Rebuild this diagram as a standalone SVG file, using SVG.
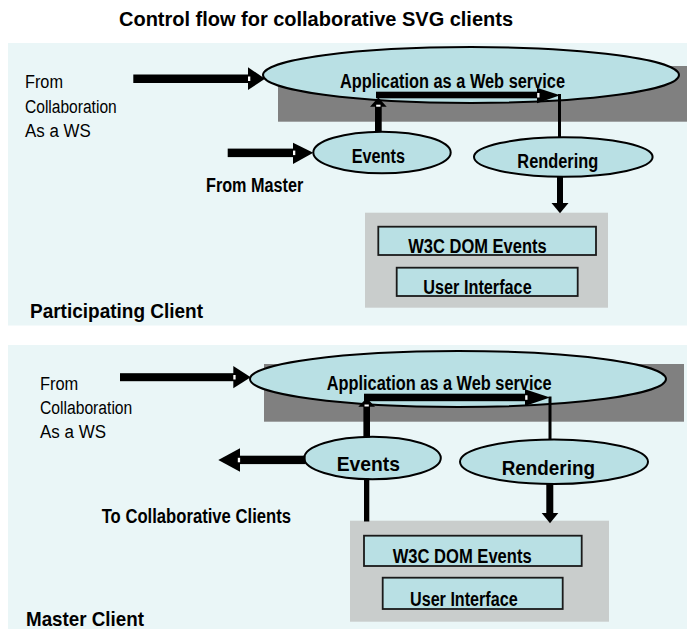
<svg xmlns="http://www.w3.org/2000/svg" width="687" height="629" viewBox="0 0 687 629">
<style>
  .panel { fill: #eaf6f7; }
  .shade { fill: #808080; }
  .tray { fill: #c9cdcc; }
  .node { fill: #b9e0e4; stroke: #000; stroke-width: 2; }
  .box { fill: #b9e0e4; stroke: #1a1a1a; stroke-width: 1.8; }
  .blk { fill: #000; }
  .thin { stroke: #000; stroke-width: 3; fill: none; }
  .notch { fill: #fff; }
  text { font-family: "Liberation Sans", Arial, sans-serif; fill: #000; }
  .b { font-weight: bold; }
  .t18 { font-size: 19.5px; }
  .t20 { font-size: 21px; }
  .r17 { font-size: 18px; }
</style>

<!-- title -->
<text id="title" class="b" style="font-size:20px" x="119" y="26" textLength="394" lengthAdjust="spacing">Control flow for collaborative SVG clients</text>

<!-- ================= Participating client panel ================= -->
<g id="participating-panel">
  <rect class="panel" x="8" y="43" width="679" height="282.5"/>
  <rect class="shade" x="278" y="66" width="409" height="55.7"/>
  <text class="b t20" x="30" y="318.3" textLength="173" lengthAdjust="spacingAndGlyphs">Participating Client</text>
  <text class="r17" x="25" y="88.3" textLength="38" lengthAdjust="spacingAndGlyphs">From</text>
  <text class="r17" x="25" y="113.3" textLength="91.7" lengthAdjust="spacingAndGlyphs">Collaboration</text>
  <text class="r17" x="25" y="136.7" textLength="65.7" lengthAdjust="spacingAndGlyphs">As a WS</text>
  <text class="b t18" x="206" y="191.7" textLength="97.3" lengthAdjust="spacingAndGlyphs">From Master</text>
</g>

<g id="p-app">
  <ellipse class="node" cx="471" cy="75" rx="208" ry="28"/>
  <text class="b t18" x="340" y="88.3" textLength="225" lengthAdjust="spacingAndGlyphs">Application as a Web service</text>
</g>
<g id="p-events">
  <ellipse class="node" cx="382" cy="152.5" rx="68.7" ry="20.8"/>
  <text class="b t18" x="351.7" y="162.7" textLength="53.3" lengthAdjust="spacingAndGlyphs">Events</text>
</g>
<g id="p-rendering">
  <ellipse class="node" cx="563.3" cy="157" rx="89.3" ry="19.7"/>
  <text class="b t18" x="517.3" y="168.3" textLength="81" lengthAdjust="spacingAndGlyphs">Rendering</text>
</g>
<g id="p-tray">
  <rect class="tray" x="365" y="212.7" width="243" height="95"/>
</g>
<g id="p-dom">
  <rect class="box" x="378.3" y="226.7" width="217.7" height="28.3"/>
  <text class="b t18" x="408.3" y="253.3" textLength="138.4" lengthAdjust="spacingAndGlyphs">W3C DOM Events</text>
</g>
<g id="p-ui">
  <rect class="box" x="396.7" y="267.7" width="181" height="28.3"/>
  <text class="b t18" x="423.3" y="294" textLength="108.4" lengthAdjust="spacingAndGlyphs">User Interface</text>
</g>

<!-- ================= Master client panel ================= -->
<g id="master-panel">
  <rect class="panel" x="8" y="345" width="679" height="284"/>
  <rect class="shade" x="264" y="364" width="420" height="57.7"/>
  <text class="b t20" x="26" y="626" textLength="118" lengthAdjust="spacingAndGlyphs">Master Client</text>
  <text class="r17" x="40" y="390" textLength="38.3" lengthAdjust="spacingAndGlyphs">From</text>
  <text class="r17" x="40" y="414" textLength="92.3" lengthAdjust="spacingAndGlyphs">Collaboration</text>
  <text class="r17" x="40" y="437.7" textLength="66" lengthAdjust="spacingAndGlyphs">As a WS</text>
  <text class="b t18" x="101.7" y="522.7" textLength="189.3" lengthAdjust="spacingAndGlyphs">To Collaborative Clients</text>
</g>

<g id="m-app">
  <ellipse class="node" cx="458" cy="379" rx="208" ry="28"/>
  <text class="b t18" x="326.7" y="390" textLength="225" lengthAdjust="spacingAndGlyphs">Application as a Web service</text>
</g>
<g id="m-events">
  <ellipse class="node" cx="372.5" cy="458" rx="68.3" ry="21.3"/>
  <text class="b t20" x="336.7" y="471" textLength="63.3" lengthAdjust="spacingAndGlyphs">Events</text>
</g>
<g id="m-rendering">
  <ellipse class="node" cx="554" cy="461.7" rx="94" ry="22.3"/>
  <text class="b t20" x="501.7" y="475" textLength="93.3" lengthAdjust="spacingAndGlyphs">Rendering</text>
</g>
<g id="m-tray">
  <rect class="tray" x="350" y="520.7" width="259" height="101"/>
</g>
<g id="m-dom">
  <rect class="box" x="364" y="535.7" width="217.7" height="30.3"/>
  <text class="b t18" x="392.7" y="562.7" textLength="139" lengthAdjust="spacingAndGlyphs">W3C DOM Events</text>
</g>
<g id="m-ui">
  <rect class="box" x="382.7" y="577.7" width="180" height="31.3"/>
  <text class="b t18" x="410" y="606" textLength="107.7" lengthAdjust="spacingAndGlyphs">User Interface</text>
</g>

<!-- ================= connectors ================= -->
<g id="connectors">
  <!-- participating: from collaboration -> app -->
  <rect class="blk" x="133.3" y="74.5" width="115" height="8.5"/>
  <polygon class="blk" points="248,67.3 265,78.7 248,90"/>
  <rect class="notch" x="248" y="76.5" width="2.3" height="4.5"/>
  <!-- from master -> events -->
  <rect class="blk" x="227.7" y="148.6" width="66" height="8.5"/>
  <polygon class="blk" points="293,142.7 313.3,152.8 293,164"/>
  <rect class="notch" x="293" y="150.6" width="2.3" height="4.5"/>
  <!-- events -> app (up) -->
  <rect class="blk" x="375" y="104" width="6.7" height="28"/>
  <polygon class="blk" points="370,106.7 378.3,97.5 386.7,106.7"/>
  <rect class="notch" x="376.2" y="104.7" width="4.3" height="2"/>
  <!-- app internal -> rendering -->
  <rect class="blk" x="376" y="91.7" width="162" height="6.6"/>
  <polygon class="blk" points="537,87.7 560,95.3 537,103.3"/>
  <rect class="notch" x="537.2" y="93" width="2.3" height="4.5"/>
  <line class="thin" x1="559.5" y1="94" x2="559.5" y2="137.5"/>
  <!-- rendering -> tray -->
  <rect class="blk" x="557" y="176" width="6" height="28"/>
  <polygon class="blk" points="551.5,203 568.5,203 560,213.3"/>

  <!-- master: from collaboration -> app -->
  <rect class="blk" x="120" y="373.2" width="114" height="8"/>
  <polygon class="blk" points="233.3,366 250.7,377.2 233.3,388.3"/>
  <rect class="notch" x="233.3" y="375" width="2.3" height="4.5"/>
  <!-- events -> to collaborative clients (left) -->
  <rect class="blk" x="239" y="455.7" width="66.5" height="8.4"/>
  <polygon class="blk" points="240,448.3 218.3,460 240,471.7"/>
  <rect class="notch" x="237.8" y="457.8" width="2.3" height="4.5"/>
  <!-- events -> app (up) -->
  <rect class="blk" x="363.4" y="404" width="6.6" height="33.5"/>
  <polygon class="blk" points="358.3,406.7 366.7,398 375,406.7"/>
  <rect class="notch" x="364.5" y="404.5" width="4.3" height="2"/>
  <!-- app internal -> rendering -->
  <rect class="blk" x="364" y="393.7" width="162" height="7.5"/>
  <polygon class="blk" points="525,389.3 550,397.5 525,406"/>
  <rect class="notch" x="525.2" y="395.3" width="2.3" height="4.5"/>
  <line class="thin" x1="550" y1="396.5" x2="550" y2="440"/>
  <!-- tray -> events (user input line) -->
  <rect class="blk" x="364" y="478.5" width="5.3" height="43"/>
  <!-- rendering -> tray -->
  <rect class="blk" x="546.3" y="483.5" width="7" height="30.5"/>
  <polygon class="blk" points="541.7,513 558.3,513 550,523.3"/>
</g>
</svg>
